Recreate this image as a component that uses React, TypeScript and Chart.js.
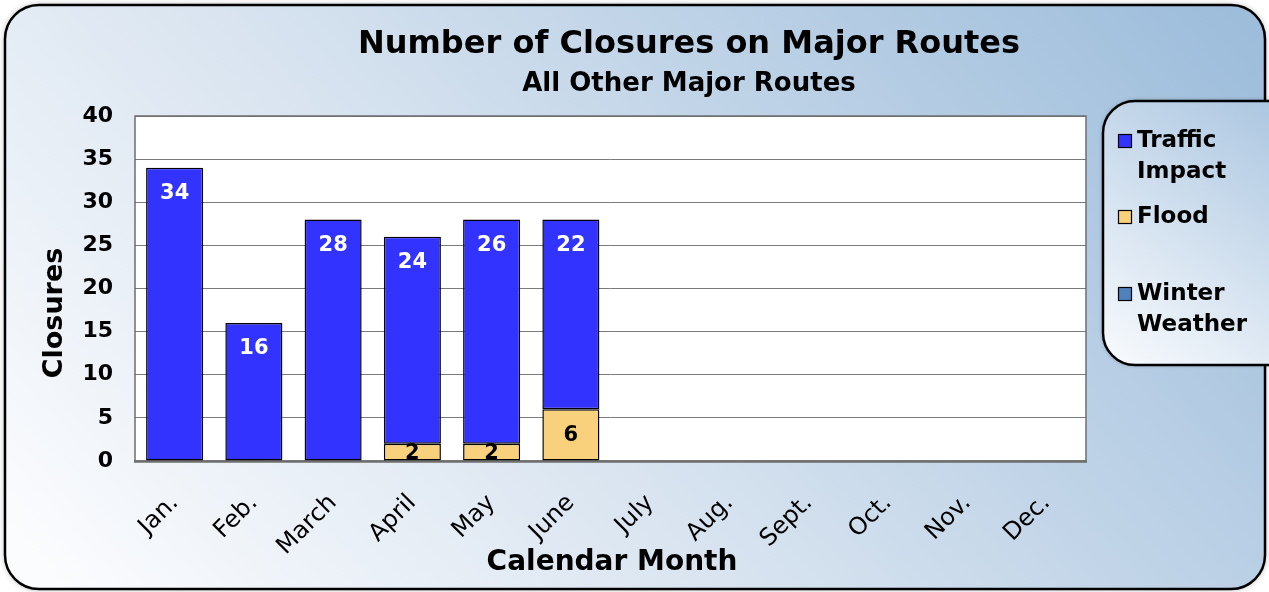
import React, { useEffect, useRef } from "react";
import { Chart, registerables } from "chart.js";

Chart.register(...registerables);

const months = ["Jan.", "Feb.", "March", "April", "May", "June", "July", "Aug.", "Sept.", "Oct.", "Nov.", "Dec."];
const trafficImpact = [34, 16, 28, 24, 26, 22, null, null, null, null, null, null];
const flood = [0, 0, 0, 2, 2, 6, null, null, null, null, null, null];
const winterWeather = [0, 0, 0, 0, 0, 0, null, null, null, null, null, null];
const yMin = 0;
const yMax = 40;
const yStep = 5;
const titleText = "Number of Closures on Major Routes";
const subtitleText = "All Other Major Routes";
const xAxisTitle = "Calendar Month";
const yAxisTitle = "Closures";
const legendItems = [
  { lines: ["Traffic", "Impact"], color: "#3333FF" },
  { lines: ["Flood"], color: "#F9D07C" },
  { lines: ["Winter", "Weather"], color: "#4F81BD" },
];

const FONT = "'DejaVu Sans', 'Liberation Sans', sans-serif";
const W = 1269;
const H = 592;

function roundRect(ctx: CanvasRenderingContext2D, x: number, y: number, w: number, h: number, r: number) {
  ctx.beginPath();
  ctx.moveTo(x + r, y);
  ctx.lineTo(x + w - r, y);
  ctx.arcTo(x + w, y, x + w, y + r, r);
  ctx.lineTo(x + w, y + h - r);
  ctx.arcTo(x + w, y + h, x + w - r, y + h, r);
  ctx.lineTo(x + r, y + h);
  ctx.arcTo(x, y + h, x, y + h - r, r);
  ctx.lineTo(x, y + r);
  ctx.arcTo(x, y, x + r, y, r);
  ctx.closePath();
}

const decorPlugin = {
  id: "decor",
  beforeDraw(chart: any) {
    const ctx: CanvasRenderingContext2D = chart.ctx;
    const ca = chart.chartArea;
    ctx.save();
    ctx.fillStyle = "#ffffff";
    ctx.fillRect(0, 0, W, H);
    // outer frame
    const g = ctx.createLinearGradient(60, H, 1000, -250);
    g.addColorStop(0, "#fbfcfe");
    g.addColorStop(0.4, "#d9e4f0");
    g.addColorStop(1, "#9dbddb");
    ctx.shadowColor = "rgba(0,0,0,0.35)";
    ctx.shadowBlur = 6;
    roundRect(ctx, 5, 5, 1260, 584, 34);
    ctx.fillStyle = g;
    ctx.fill();
    ctx.shadowColor = "transparent";
    ctx.shadowBlur = 0;
    ctx.lineWidth = 2.5;
    ctx.strokeStyle = "#000000";
    ctx.stroke();
    // plot area
    ctx.fillStyle = "#ffffff";
    ctx.fillRect(ca.left, ca.top, ca.right - ca.left, ca.bottom - ca.top);
    // legend box
    const lg = ctx.createLinearGradient(1110, 365, 1300, 100);
    lg.addColorStop(0, "#f8fafd");
    lg.addColorStop(1, "#a8c4df");
    ctx.shadowColor = "rgba(0,0,0,0.3)";
    ctx.shadowBlur = 5;
    roundRect(ctx, 1103, 101, 200, 264, 32);
    ctx.fillStyle = lg;
    ctx.fill();
    ctx.shadowColor = "transparent";
    ctx.shadowBlur = 0;
    ctx.lineWidth = 2.5;
    ctx.strokeStyle = "#000000";
    ctx.stroke();
    // titles
    ctx.fillStyle = "#000000";
    ctx.textAlign = "center";
    ctx.textBaseline = "middle";
    ctx.font = `bold 32px ${FONT}`;
    ctx.fillText(titleText, 689, 45);
    ctx.font = `bold 26px ${FONT}`;
    ctx.fillText(subtitleText, 689, 84);
    // axis titles
    ctx.font = `bold 28px ${FONT}`;
    ctx.fillText(xAxisTitle, 612, 563);
    ctx.save();
    ctx.translate(55, 313);
    ctx.rotate(-Math.PI / 2);
    ctx.font = `bold 27px ${FONT}`;
    ctx.fillText(yAxisTitle, 0, 0);
    ctx.restore();
    // legend items
    const rows = [[141, 172], [217], [294, 325]];
    ctx.font = `bold 23px ${FONT}`;
    ctx.textAlign = "left";
    legendItems.forEach((it, i) => {
      const ys = rows[i];
      ctx.fillStyle = it.color;
      ctx.fillRect(1118.5, ys[0] - 6.5, 13, 13);
      ctx.lineWidth = 1.2;
      ctx.strokeStyle = "#000000";
      ctx.strokeRect(1118.5, ys[0] - 6.5, 13, 13);
      ctx.fillStyle = "#000000";
      it.lines.forEach((ln, j) => ctx.fillText(ln, 1137, ys[j]));
    });
    ctx.restore();
  },
  beforeDatasetsDraw(chart: any) {
    const ctx: CanvasRenderingContext2D = chart.ctx;
    const ca = chart.chartArea;
    ctx.save();
    ctx.strokeStyle = "#6e6e6e";
    ctx.lineWidth = 1.5;
    ctx.strokeRect(ca.left, ca.top, ca.right - ca.left, ca.bottom - ca.top);
    ctx.lineWidth = 2.5;
    ctx.beginPath();
    ctx.moveTo(ca.left - 1, ca.bottom + 0.5);
    ctx.lineTo(ca.right + 1, ca.bottom + 0.5);
    ctx.stroke();
    ctx.restore();
  },
  afterDatasetsDraw(chart: any) {
    const ctx: CanvasRenderingContext2D = chart.ctx;
    ctx.save();
    ctx.textAlign = "center";
    ctx.textBaseline = "middle";
    ctx.font = `bold 21px ${FONT}`;
    chart.data.datasets.forEach((ds: any, di: number) => {
      const meta = chart.getDatasetMeta(di);
      meta.data.forEach((el: any, i: number) => {
        const v = ds.data[i];
        if (!v) return;
        if (ds.label === "Traffic Impact") {
          ctx.fillStyle = "#ffffff";
          ctx.fillText(String(v), el.x, el.y + 26);
        } else {
          ctx.fillStyle = "#000000";
          ctx.fillText(String(v), el.x, (el.y + el.base) / 2 + 1);
        }
      });
    });
    ctx.restore();
  },
};

export default function App() {
  const ref = useRef<HTMLCanvasElement | null>(null);
  useEffect(() => {
    if (!ref.current) return;
    const bw = (c: any) => (c.raw ? 1.5 : 0);
    const chart = new Chart(ref.current, {
      type: "bar",
      data: {
        labels: months,
        datasets: [
          { label: "Flood", data: flood, backgroundColor: "#F9D07C", borderColor: "#000000", borderWidth: bw, borderSkipped: false },
          { label: "Winter Weather", data: winterWeather, backgroundColor: "#4F81BD", borderColor: "#000000", borderWidth: bw, borderSkipped: false },
          { label: "Traffic Impact", data: trafficImpact, backgroundColor: "#3333FF", borderColor: "#000000", borderWidth: bw, borderSkipped: false },
        ],
      },
      options: {
        responsive: false,
        animation: false,
        devicePixelRatio: 1,
        layout: { padding: { left: 0, top: 116, right: 183, bottom: 0 } },
        plugins: { legend: { display: false }, title: { display: false }, tooltip: { enabled: false } },
        datasets: { bar: { categoryPercentage: 1, barPercentage: 0.72 } },
        scales: {
          x: {
            stacked: true,
            grid: { display: false, drawTicks: false },
            border: { display: false },
            ticks: { minRotation: 45, maxRotation: 45, color: "#000000", padding: 28, font: { family: FONT, size: 24 } },
            afterFit: (s: any) => { s.height = 131; },
          },
          y: {
            stacked: true,
            min: yMin,
            max: yMax,
            grid: { color: "#7a7a7a", lineWidth: 1, drawTicks: false },
            border: { display: false },
            ticks: { stepSize: yStep, color: "#000000", padding: 22, font: { family: FONT, size: 22, weight: "bold" } },
            afterFit: (s: any) => { s.width = 135; },
          },
        },
      },
      plugins: [decorPlugin],
    } as any);
    return () => chart.destroy();
  }, []);
  return (
    <div style={{ position: "fixed", left: 0, top: 0, width: W, height: H, background: "#fff" }}>
      <canvas ref={ref} width={W} height={H} style={{ width: W, height: H, display: "block" }} />
    </div>
  );
}
